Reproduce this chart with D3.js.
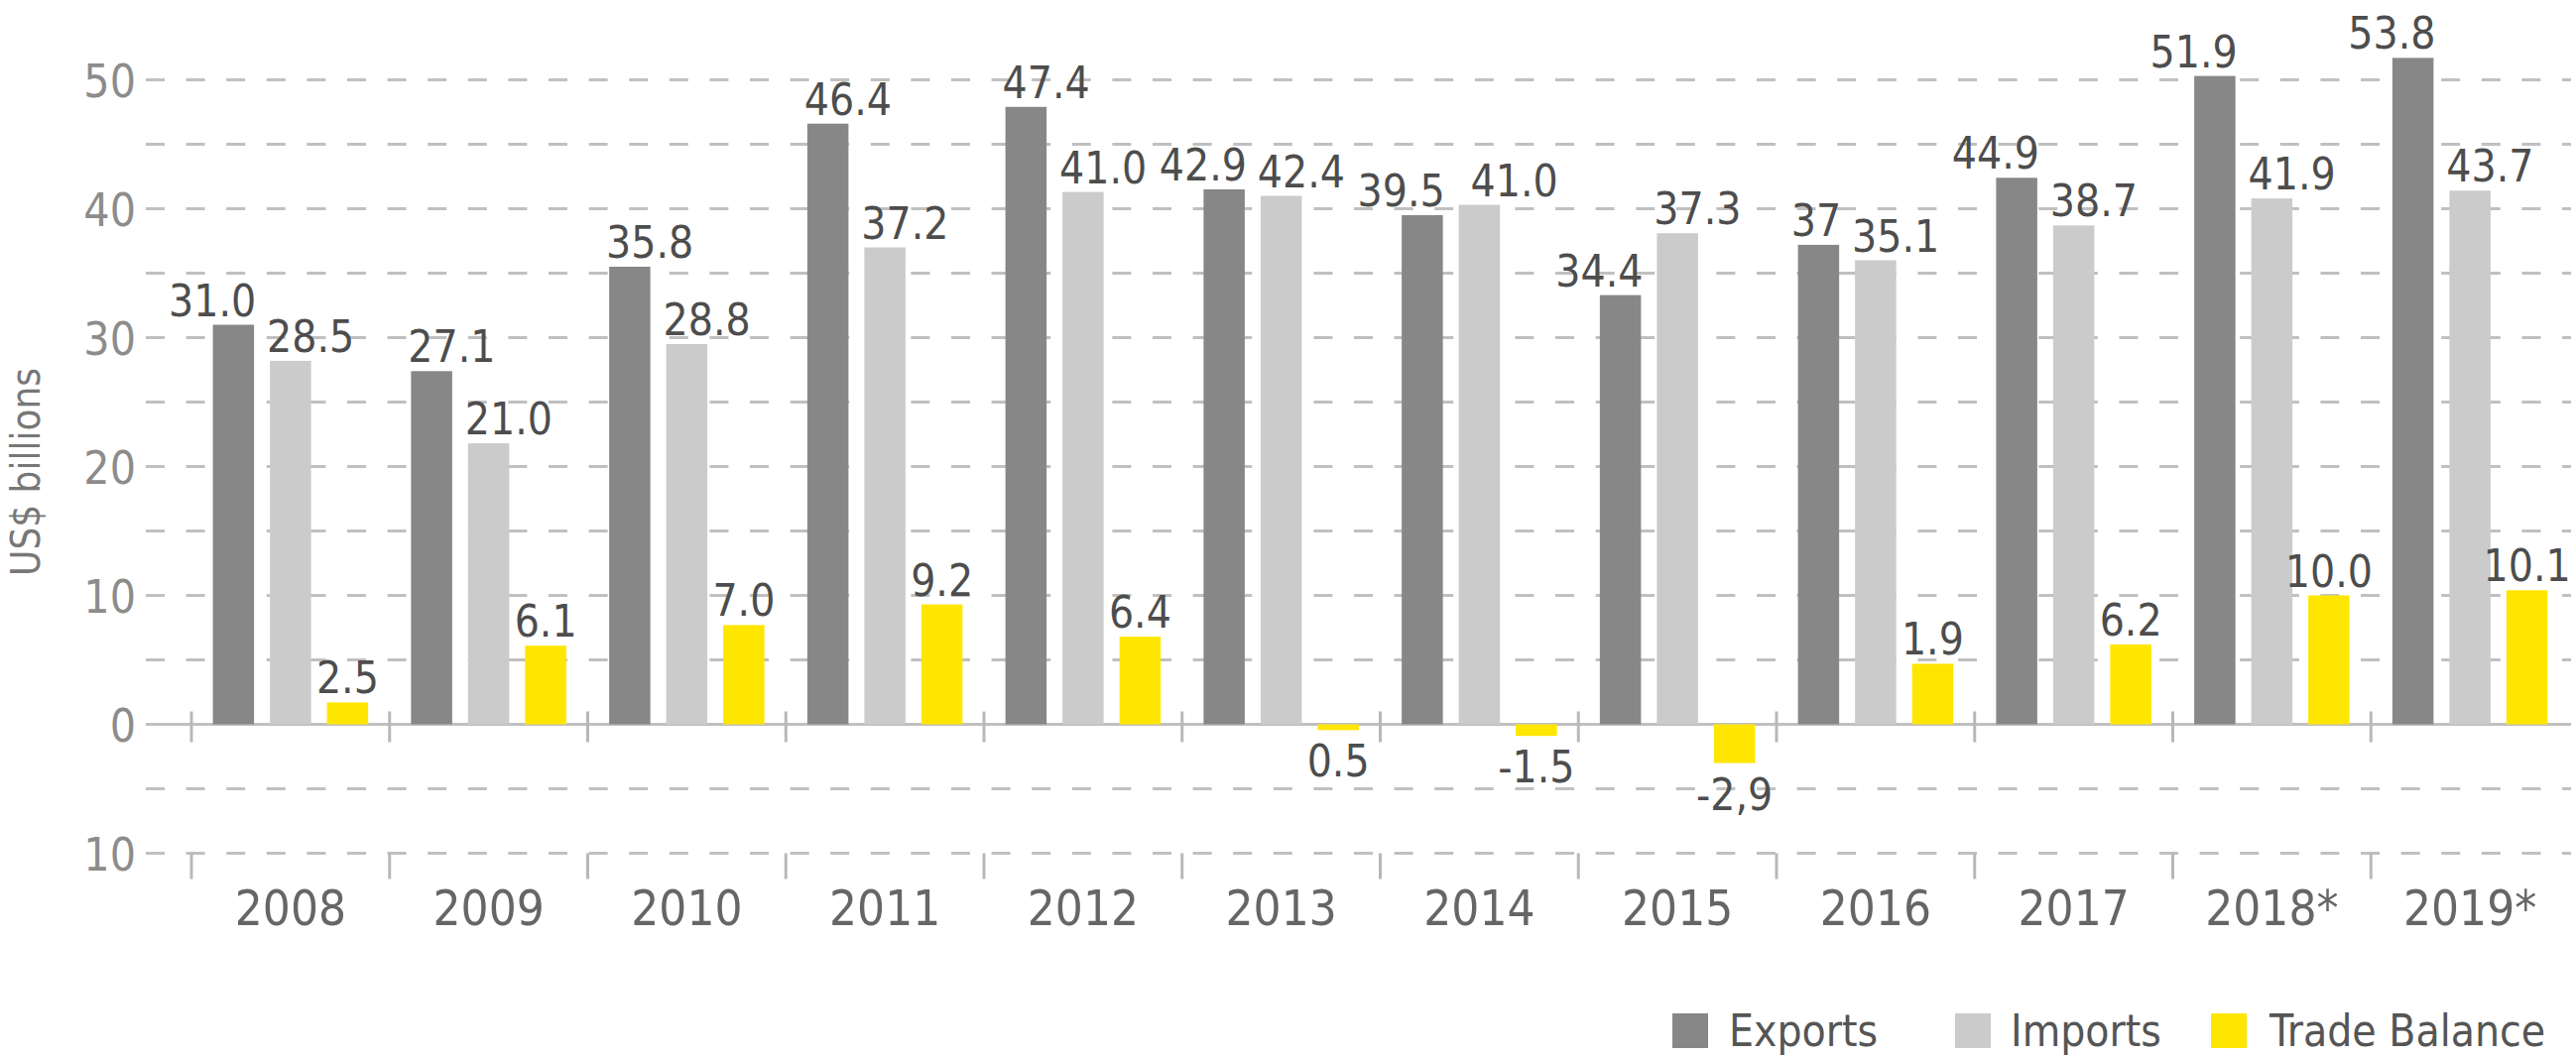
<!DOCTYPE html>
<html lang="en">
<head>
<meta charset="utf-8">
<title>Exports, Imports and Trade Balance</title>
<script src="https://d3js.org/d3.v7.min.js"></script>
<style>
  body { margin: 0; background: #fff; }
  svg { display: block; }
  text { font-family: "DejaVu Sans Condensed", "DejaVu Sans", sans-serif; font-stretch: condensed; }
  .grid line { stroke: #c0c0c0; stroke-width: 3; stroke-dasharray: 19 21.6; }
  .zero { stroke: #c0c0c0; stroke-width: 3; }
  .tick-mark { stroke: #b8b8b8; stroke-width: 3; }
  .ylab { fill: #8c8c8c; font-size: 46px; }
  .year { fill: #666; font-size: 49px; }
  .val { fill: #4d4d4d; font-size: 44px; }
  .legend text { fill: #555; font-size: 44px; }
</style>
</head>
<body>
<svg width="2597" height="1066"></svg>
<script>
// data (bar heights) and the printed labels
var years = ["2008", "2009", "2010", "2011", "2012", "2013", "2014", "2015", "2016", "2017", "2018*", "2019*"];
var exportsVals = [31.0, 27.4, 35.5, 46.6, 47.9, 41.5, 39.5, 33.3, 37.2, 42.4, 50.3, 51.7];
var importsVals = [28.2, 21.8, 29.5, 37.0, 41.3, 41.0, 40.3, 38.1, 36.0, 38.7, 40.8, 41.4];
var balanceVals = [1.7, 6.1, 7.7, 9.3, 6.8, -0.45, -0.9, -3.0, 4.7, 6.2, 10.0, 10.4];
var exportsLabels = ["31.0", "27.1", "35.8", "46.4", "47.4", "42.9", "39.5", "34.4", "37", "44.9", "51.9", "53.8"];
var importsLabels = ["28.5", "21.0", "28.8", "37.2", "41.0", "42.4", "41.0", "37.3", "35.1", "38.7", "41.9", "43.7"];
var balanceLabels = ["2.5", "6.1", "7.0", "9.2", "6.4", "0.5", "-1.5", "-2,9", "1.9", "6.2", "10.0", "10.1"];
var yTicks = [-10, 0, 10, 20, 30, 40, 50];
var series = ["Exports", "Imports", "Trade Balance"];
var colors = ["#878787", "#cbcbcb", "#ffe600"];

// label placement: end = right aligned to bar, start = left aligned,
// nudge = pushed a little right so it clears the export label
var exportLabelSide = ["end", "start", "start", "start", "start", "end", "end", "end", "end", "end", "end", "end"];
var importLabelSide = ["start", "start", "start", "start", "start", "start", "nudge", "start", "start", "start", "start", "start"];

var svg = d3.select("svg");

var x0 = d3.scaleBand().domain(years).range([193, 2590]);
var x1 = d3.scaleBand().domain(series).range([0, x0.bandwidth()])
  .paddingInner(0.278).paddingOuter(0.376);
var y = d3.scaleLinear().domain([-10, 50]).range([860.5, 80.5]);

// dashed grid every 5
var gridVals = d3.range(-10, 51, 5).filter(function(d) { return d !== 0; });
svg.append("g").attr("class", "grid")
  .selectAll("line").data(gridVals).enter().append("line")
  .attr("x1", 147).attr("x2", 2592)
  .attr("y1", function(d) { return y(d); })
  .attr("y2", function(d) { return y(d); });

// solid zero line
svg.append("line").attr("class", "zero")
  .attr("x1", 147).attr("x2", 2592)
  .attr("y1", y(0)).attr("y2", y(0));

// category separators
svg.append("g").selectAll("line").data(years).enter().append("line")
  .attr("class", "tick-mark")
  .attr("x1", function(d) { return x0(d); }).attr("x2", function(d) { return x0(d); })
  .attr("y1", y(0) - 13).attr("y2", y(0) + 18);
svg.append("g").selectAll("line").data(years).enter().append("line")
  .attr("class", "tick-mark")
  .attr("x1", function(d) { return x0(d); }).attr("x2", function(d) { return x0(d); })
  .attr("y1", y(-10)).attr("y2", y(-10) + 26);

// y axis labels
var yAxis = d3.axisLeft(y).tickValues(yTicks).tickSize(0).tickPadding(0)
  .tickFormat(function(d) { return Math.abs(d); });
var ya = svg.append("g").attr("transform", "translate(137,0)").call(yAxis);
ya.select(".domain").remove();
ya.selectAll("text").attr("class", "ylab").attr("font-size", null).attr("font-family", null)
  .attr("fill", null).attr("dy", "0.36em");

// axis title
svg.append("text")
  .attr("transform", "translate(40,476) rotate(-90)")
  .attr("text-anchor", "middle")
  .attr("fill", "#777").attr("font-size", 40)
  .text("US$ billions");

// x axis year labels
var xAxis = d3.axisBottom(x0).tickSize(0).tickPadding(0);
var xa = svg.append("g").attr("transform", "translate(0,933)").call(xAxis);
xa.select(".domain").remove();
xa.selectAll("text").attr("class", "year").attr("font-size", null).attr("font-family", null)
  .attr("fill", null).attr("dy", 0);

// bars
var rows = years.map(function(yr, i) {
  return [
    { year: yr, key: "Exports", v: exportsVals[i], label: exportsLabels[i], side: exportLabelSide[i] },
    { year: yr, key: "Imports", v: importsVals[i], label: importsLabels[i], side: importLabelSide[i] },
    { year: yr, key: "Trade Balance", v: balanceVals[i], label: balanceLabels[i], side: "middle" }
  ];
});
var color = d3.scaleOrdinal().domain(series).range(colors);

var group = svg.append("g").selectAll("g").data(rows).enter().append("g")
  .attr("transform", function(d) { return "translate(" + x0(d[0].year) + ",0)"; });

group.selectAll("rect").data(function(d) { return d; }).enter().append("rect")
  .attr("x", function(d) { return x1(d.key); })
  .attr("width", x1.bandwidth())
  .attr("y", function(d) { return y(Math.max(0, d.v)); })
  .attr("height", function(d) { return Math.abs(y(d.v) - y(0)); })
  .attr("fill", function(d) { return color(d.key); });

var anchorOf = { end: "end", start: "start", nudge: "start", middle: "middle" };
group.selectAll("text").data(function(d) { return d; }).enter().append("text")
  .attr("class", "val")
  .attr("text-anchor", function(d) { return anchorOf[d.side]; })
  .attr("x", function(d) {
    var bx = x1(d.key), bw = x1.bandwidth();
    if (d.side === "end") return bx + bw + 2;
    if (d.side === "start") return bx - 3;
    if (d.side === "nudge") return bx + 12;
    return bx + bw / 2;
  })
  .attr("y", function(d) { return d.v >= 0 ? y(d.v) - 9 : y(d.v) + 47; })
  .text(function(d) { return d.label; });

// legend
var legendX = [[1686, 1743], [1971, 2027], [2229, 2288]];
var lg = svg.append("g").attr("class", "legend").selectAll("g").data(series).enter().append("g");
lg.append("rect")
  .attr("x", function(d, i) { return legendX[i][0]; })
  .attr("y", 1022).attr("width", 36).attr("height", 35)
  .attr("fill", function(d) { return color(d); });
lg.append("text")
  .attr("x", function(d, i) { return legendX[i][1]; })
  .attr("y", 1055)
  .text(function(d) { return d; });
</script>
</body>
</html>
